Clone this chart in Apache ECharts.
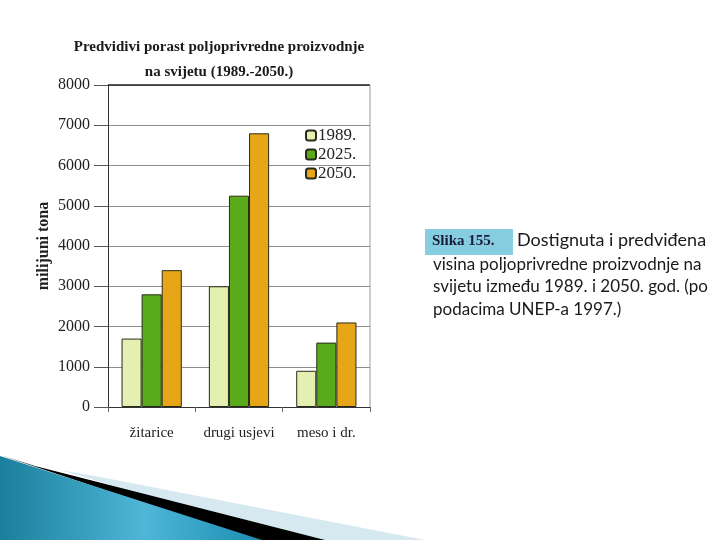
<!DOCTYPE html>
<html>
<head>
<meta charset="utf-8">
<script src="https://cdn.jsdelivr.net/npm/echarts@6/dist/echarts.min.js"></script>
<style>
  html, body { margin: 0; padding: 0; background: #fff; }
  #chart { width: 720px; height: 540px; }
</style>
</head>
<body>
<div id="chart"></div>
<script>
// podaci
var categories = ['žitarice', 'drugi usjevi', 'meso i dr.'];
var years = ['1989.', '2025.', '2050.'];
var values1989 = [1700, 3000, 900];
var values2025 = [2800, 5250, 1600];
var values2050 = [3400, 6800, 2100];
var yTicks = [0, 1000, 2000, 3000, 4000, 5000, 6000, 7000, 8000];

var chart = echarts.init(document.getElementById('chart'));
var serif = '"Liberation Serif", "DejaVu Serif", serif';
var barBorder = { borderColor: '#2a2a1a', borderWidth: 1 };

var option = {
  animation: false,
  title: {
    text: 'Predvidivi porast poljoprivredne proizvodnje\nna svijetu (1989.-2050.)',
    left: 214,
    top: 30,
    textAlign: 'center',
    textStyle: { fontFamily: serif, fontWeight: 'bold', fontSize: 15, lineHeight: 25, color: '#1a1a1a' }
  },
  legend: {
    orient: 'vertical',
    left: 300,
    top: 122,
    itemWidth: 10,
    itemHeight: 10,
    itemGap: 2,
    data: years,
    textStyle: { fontFamily: serif, fontSize: 17, color: '#222', padding: [0, 0, 0, -3] }
  },
  grid: { left: 108, right: 350, top: 85, bottom: 133 },
  xAxis: {
    type: 'category',
    data: categories,
    axisLine: { lineStyle: { color: '#333' } },
    axisTick: { show: true, length: 5, lineStyle: { color: '#666' } },
    axisLabel: { fontFamily: serif, fontSize: 15, color: '#222', margin: 19, interval: 0 }
  },
  yAxis: {
    type: 'value',
    min: yTicks[0],
    max: yTicks[yTicks.length - 1],
    interval: 1000,
    name: 'milijuni tona',
    nameLocation: 'middle',
    nameGap: 56,
    nameTextStyle: { fontFamily: serif, fontWeight: 'bold', fontSize: 16, color: '#222' },
    axisLine: { show: true, lineStyle: { color: '#333' } },
    axisTick: { show: true, length: 14, lineStyle: { color: '#555' } },
    axisLabel: { fontFamily: serif, fontSize: 16, color: '#222', margin: 18, formatter: function (v) { return String(v); } },
    splitLine: { lineStyle: { color: '#8a8f8a' } }
  },
  series: [
    { name: years[0], type: 'bar', data: values1989, barGap: '0%', barCategoryGap: '31%',
      itemStyle: Object.assign({ color: '#e4efb2' }, barBorder) },
    { name: years[1], type: 'bar', data: values2025,
      itemStyle: Object.assign({ color: '#5aab1c' }, barBorder) },
    { name: years[2], type: 'bar', data: values2050,
      itemStyle: Object.assign({ color: '#e6a617' }, barBorder) }
  ],
  graphic: [
    // okvir
    { type: 'line', shape: { x1: 108, y1: 85, x2: 370, y2: 85 }, style: { stroke: '#222', lineWidth: 1.5 }, z: 10 },
    { type: 'line', shape: { x1: 370, y1: 85, x2: 370, y2: 407 }, style: { stroke: '#999', lineWidth: 1 }, z: 10 },
    // opis slike
    { type: 'rect', shape: { x: 425, y: 229, width: 88, height: 26 }, style: { fill: '#86cde0' } },
    { type: 'text', left: 432, top: 234, style: { text: 'Slika 155.', fontFamily: serif, fontWeight: 'bold', fontSize: 15, fill: '#1a1a3a' } },
    { type: 'text', left: 517, top: 231, style: { text: 'Dostignuta i predviđena', fontFamily: 'Lato, sans-serif', fontSize: 18, fill: '#1a1a1a' } },
    { type: 'text', left: 433, top: 253, style: { text: 'visina poljoprivredne proizvodnje na\nsvijetu između 1989. i 2050. god. (po\npodacima UNEP-a 1997.)', fontFamily: 'Lato, sans-serif', fontSize: 17, lineHeight: 22.5, fill: '#1a1a1a' } },
    // ukras u donjem lijevom kutu
    { type: 'polygon', shape: { points: [[95, 476], [425, 540], [300, 540], [60, 470]] }, style: { fill: '#d6e9f0' } },
    { type: 'polygon', shape: { points: [[35, 466], [325, 540], [255, 540], [0, 455]] }, style: { fill: '#000' } },
    { type: 'polygon', shape: { points: [[0, 456], [262, 540], [0, 540]] },
      style: { fill: new echarts.graphic.LinearGradient(0, 0, 1, 0, [
        { offset: 0, color: '#1a7f9c' }, { offset: 0.55, color: '#4fb6d8' }, { offset: 1, color: '#1b8db0' }
      ]) } }
  ]
};

chart.setOption(option);
</script>
</body>
</html>
